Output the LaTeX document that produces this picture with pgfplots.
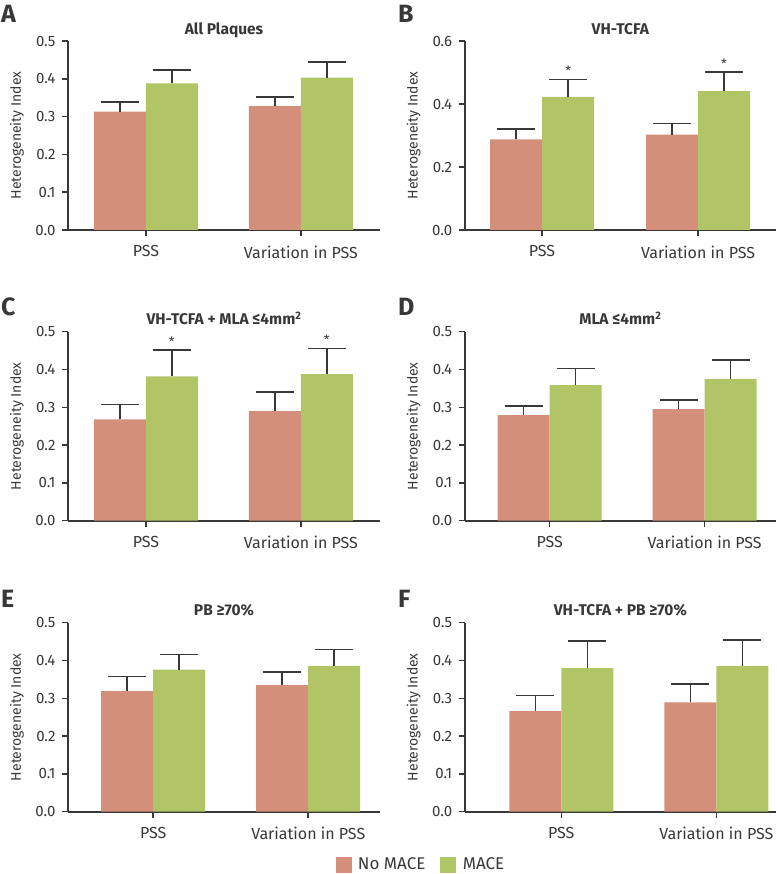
\documentclass[border=0pt]{standalone}
\usepackage{fontspec}
\setmainfont{Fira Sans}
\usepackage{pgfplots}
\pgfplotsset{compat=1.18}
\definecolor{nomace}{HTML}{D48F7B}
\definecolor{mace}{HTML}{B2C566}
\definecolor{axgray}{HTML}{383838}
\pgfplotsset{
  panel/.style={
    scale only axis,
    width=312pt, height=189pt,
    ybar=0pt, bar width=52pt,
    axis lines*=left,
    ymin=0, ymax=0.5, ytick={0,0.1,0.2,0.3,0.4,0.5},
    xmin=-0.503, xmax=1.51,
    xtick={0,1}, xticklabels={PSS, Variation in PSS},
    tick align=outside, major tick length=6pt,
    tick style={axgray, line width=1.5pt},
    axis line style={axgray, line width=1.8pt},
    minor tick num=0,
    yticklabel style={font=\fontsize{15}{17}\selectfont, text=axgray, xshift=-3pt,
      /pgf/number format/fixed, /pgf/number format/fixed zerofill,
      /pgf/number format/precision=1, /pgf/number format/assume math mode=true},
    xticklabel style={font=\fontsize{16}{18}\selectfont, text=axgray, yshift=-6pt},
    ylabel={Heterogeneity Index},
    ylabel style={at={(axis description cs:0,0.5)}, anchor=south, inner sep=0pt,
      yshift=44pt, font=\fontsize{14}{16}\selectfont, text=axgray},
    title style={at={(axis description cs:0.5,1)}, anchor=base, yshift=1pt,
      font=\fontsize{15.5}{17}\selectfont\bfseries, text=axgray},
    clip=false,
  },
  redbar/.style={fill=nomace, draw=none,
    error bars/.cd, y dir=plus, y explicit,
    error bar style={axgray, line width=1.5pt},
    error mark options={axgray, line width=1.5pt, mark size=19pt, rotate=90}},
  greenbar/.style={fill=mace, draw=none,
    error bars/.cd, y dir=plus, y explicit,
    error bar style={axgray, line width=1.5pt},
    error mark options={axgray, line width=1.5pt, mark size=19pt, rotate=90}},
}
\begin{document}
\begin{tikzpicture}
\path[use as bounding box] (0pt,0pt) rectangle (776pt,-874pt);
\tikzset{letter/.style={anchor=north west, inner sep=0pt, text=axgray,
  font=\fontsize{25}{28}\selectfont\bfseries}}
\node[letter] at (1pt,-5pt) {A};
\node[letter] at (398pt,-5pt) {B};
\node[letter] at (1pt,-298pt) {C};
\node[letter] at (398pt,-298pt) {D};
\node[letter] at (1pt,-590pt) {E};
\node[letter] at (398pt,-590pt) {F};

% A
\begin{axis}[panel, at={(68pt,-230pt)}, anchor=south west, title={All Plaques}]
\addplot[redbar] coordinates {(0,0.313) +- (0,0.026) (1,0.328) +- (0,0.024)};
\addplot[greenbar] coordinates {(0,0.388) +- (0,0.035) (1,0.403) +- (0,0.041)};
\end{axis}

% B
\begin{axis}[panel, at={(464.7pt,-230pt)}, anchor=south west, width=311.3pt,
  xmin=-0.496, xmax=1.5, ymax=0.6, ytick={0,0.2,0.4,0.6}, title={VH-TCFA}]
\addplot[redbar] coordinates {(0,0.288) +- (0,0.032) (1,0.303) +- (0,0.035)};
\addplot[greenbar] coordinates {(0,0.423) +- (0,0.054) (1,0.441) +- (0,0.061)};
\node[inner sep=0pt, text=axgray, font=\fontsize{13}{15}\selectfont] at (axis cs:0.167,0.505) {*};
\node[inner sep=0pt, text=axgray, font=\fontsize{13}{15}\selectfont] at (axis cs:1.167,0.527) {*};
\end{axis}

% C
\begin{axis}[panel, at={(68pt,-520.7pt)}, anchor=south west,
  title={VH-TCFA + MLA ≤4mm\textsuperscript{2}}]
\addplot[redbar] coordinates {(0,0.268) +- (0,0.040) (1,0.290) +- (0,0.050)};
\addplot[greenbar] coordinates {(0,0.382) +- (0,0.069) (1,0.388) +- (0,0.067)};
\node[inner sep=0pt, text=axgray, font=\fontsize{13}{15}\selectfont] at (axis cs:0.167,0.474) {*};
\node[inner sep=0pt, text=axgray, font=\fontsize{13}{15}\selectfont] at (axis cs:1.167,0.478) {*};
\end{axis}

% D
\begin{axis}[panel, at={(464.7pt,-520.7pt)}, anchor=south west, width=311.3pt,
  xmin=-0.548, xmax=1.46, title={MLA ≤4mm\textsuperscript{2}}]
\addplot[redbar] coordinates {(0,0.279) +- (0,0.024) (1,0.295) +- (0,0.024)};
\addplot[greenbar] coordinates {(0,0.359) +- (0,0.044) (1,0.375) +- (0,0.050)};
\end{axis}

% E
\begin{axis}[panel, at={(68pt,-811.7pt)}, anchor=south west,
  xmin=-0.55, xmax=1.463, title={PB ≥70\%},
  legend style={at={(axis description cs:1.131,-0.280)}, anchor=center, draw=none,
    fill=none, legend columns=2, text=axgray, column sep=5pt},
  legend cell align=left]
\addplot[forget plot, bar shift=-26pt, redbar] coordinates {(0,0.319) +- (0,0.039) (1,0.335) +- (0,0.035)};
\addplot[forget plot, bar shift=26pt, greenbar] coordinates {(0,0.376) +- (0,0.040) (1,0.386) +- (0,0.043)};
\addlegendimage{legend image code/.code={\fill[nomace] (0pt,-7.5pt) rectangle (15pt,7.5pt);}}
\addlegendentry{\fontsize{17}{19}\selectfont No MACE\hspace*{8pt}}
\addlegendimage{legend image code/.code={\fill[mace] (0pt,-7.5pt) rectangle (15pt,7.5pt);}}
\addlegendentry{\fontsize{17}{19}\selectfont MACE}
\end{axis}

% F
\begin{axis}[panel, at={(464.7pt,-811.7pt)}, anchor=south west, width=311.3pt,
  xmin=-0.623, xmax=1.385, title={VH-TCFA + PB ≥70\%}]
\addplot[redbar] coordinates {(0,0.266) +- (0,0.041) (1,0.289) +- (0,0.049)};
\addplot[greenbar] coordinates {(0,0.380) +- (0,0.071) (1,0.386) +- (0,0.068)};
\end{axis}
\end{tikzpicture}
\end{document}
